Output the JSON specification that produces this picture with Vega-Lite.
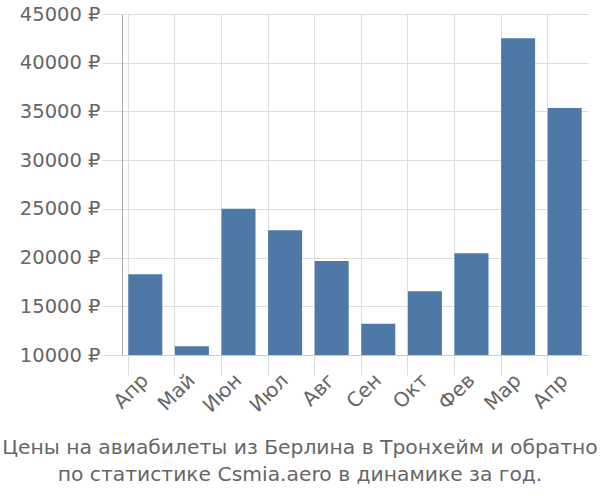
{
  "$schema": "https://vega.github.io/schema/vega-lite/v6.json",
  "width": 466,
  "height": 341,
  "autosize": {"type": "none"},
  "padding": {"left": 122, "top": 14, "right": 12, "bottom": 145},
  "background": "white",
  "data": {"values": [
    {"i": 0, "price": 18300},
    {"i": 1, "price": 10900},
    {"i": 2, "price": 25000},
    {"i": 3, "price": 22800},
    {"i": 4, "price": 19650},
    {"i": 5, "price": 13200},
    {"i": 6, "price": 16550},
    {"i": 7, "price": 20450},
    {"i": 8, "price": 42500},
    {"i": 9, "price": 35350}
  ]},
  "title": {
    "text": ["Цены на авиабилеты из Берлина в Тронхейм и обратно", "по статистике Csmia.aero в динамике за год."],
    "orient": "bottom",
    "anchor": "middle",
    "dx": -55,
    "offset": 22,
    "font": "DejaVu Sans",
    "fontSize": 20.3,
    "fontWeight": "normal",
    "color": "#666666",
    "lineHeight": 27
  },
  "config": {"view": {"stroke": null}},
  "encoding": {
    "x": {
      "field": "i",
      "type": "ordinal",
      "scale": {"paddingInner": 0.27, "paddingOuter": 0.135},
      "axis": {
        "title": null,
        "labelExpr": "['Апр','Май','Июн','Июл','Авг','Сен','Окт','Фев','Мар','Апр'][datum.value]",
        "labelAngle": -45,
        "labelAlign": "right",
        "labelBaseline": "middle",
        "labelFont": "DejaVu Sans",
        "labelFontSize": 20,
        "labelColor": "#666666",
        "labelPadding": 2,
        "bandPosition": 0,
        "grid": true,
        "gridColor": "#dddddd",
        "tickColor": "#dddddd",
        "tickSize": 20,
        "domainColor": "#cccccc"
      }
    },
    "y": {
      "field": "price",
      "type": "quantitative",
      "scale": {"domain": [10000, 45000], "zero": false, "nice": false},
      "axis": {
        "title": null,
        "values": [10000, 15000, 20000, 25000, 30000, 35000, 40000, 45000],
        "labelExpr": "datum.value + ' ₽'",
        "labelFont": "DejaVu Sans",
        "labelFontSize": 19.5,
        "labelColor": "#666666",
        "labelPadding": 2,
        "tickSize": 20,
        "tickColor": "#dddddd",
        "gridColor": "#dddddd",
        "domainColor": "#aaaaaa"
      }
    },
    "y2": {"datum": 10000}
  },
  "mark": {"type": "bar", "color": "#4e79a7"}
}
